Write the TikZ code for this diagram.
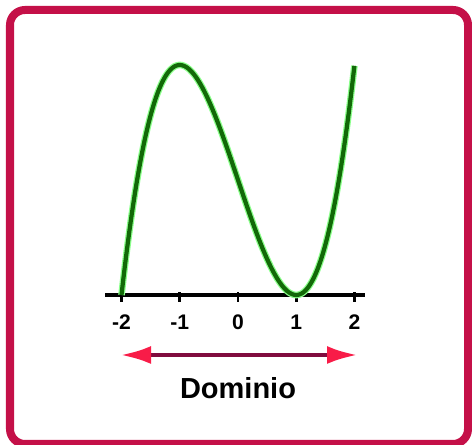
\documentclass[tikz,border=0pt]{standalone}
\usepackage{fontspec}
\setmainfont{Liberation Sans}
\usetikzlibrary{arrows.meta,positioning}
\definecolor{frameRed}{RGB}{196,16,72}
\definecolor{curveGreen}{RGB}{18,105,8}
\definecolor{arrowLine}{RGB}{128,12,62}
\definecolor{arrowTip}{RGB}{248,28,72}

\begin{document}
\begin{tikzpicture}[
  frameBox/.style={draw=frameRed, line width=0.16cm, rounded corners=0.3cm},
  axisLine/.style={line width=2.2pt, black},
  tickMark/.style={line width=1.6pt, black},
  tickLabel/.style={font=\bfseries\fontsize{12}{14}\selectfont, inner sep=1pt},
  halo/.style={line width=3.8pt, green!45!white},
  curve/.style={line width=2.4pt, curveGreen},
  domArrow/.style={line width=2.6pt, arrowLine,
    {Latex[length=0.62cm, width=0.36cm, color=arrowTip]}-{Latex[length=0.62cm, width=0.36cm, color=arrowTip]}},
  bigLabel/.style={font=\bfseries\fontsize{16.5}{18}\selectfont}
]
  \useasboundingbox (0,0) rectangle (9.44,8.9);

  % Frame (cut off at right and bottom)
  \draw[frameBox] (0.2,0.02) rectangle (9.36,8.7);

  % Axis
  \coordinate (axL) at (2.10,3.00);
  \coordinate (axR) at (7.30,3.00);
  \draw[axisLine] (axL) -- (axR);

  % Ticks and labels
  \foreach \v [count=\i] in {-2,-1,0,1,2} {
    \coordinate (tk\i) at ({4.76+1.165*\v},3.00);
    \draw[tickMark] ([yshift=-0.14cm]tk\i) -- ([yshift=0.06cm]tk\i);
    \node[tickLabel] (lb\i) at ({4.76+1.165*\v},2.46) {\v};
  }

  % Graph of (x+2)(x-1)^2
  \begin{scope}[shift={(4.76,3.00)}, x=1.165cm, y=1.15cm]
    \draw[halo] plot[domain=-2:2, samples=120, smooth] (\x,{(\x+2)*(\x-1)*(\x-1)});
    \draw[curve] plot[domain=-2:2, samples=120, smooth] (\x,{(\x+2)*(\x-1)*(\x-1)});
  \end{scope}

  % Domain arrow
  \coordinate (domL) at (2.40,1.80);
  \coordinate (domR) at (7.16,1.80);
  \draw[domArrow] (domL) -- (domR);

  \node[bigLabel] (dom) at (4.76,1.14) {Dominio};
\end{tikzpicture}
\end{document}
